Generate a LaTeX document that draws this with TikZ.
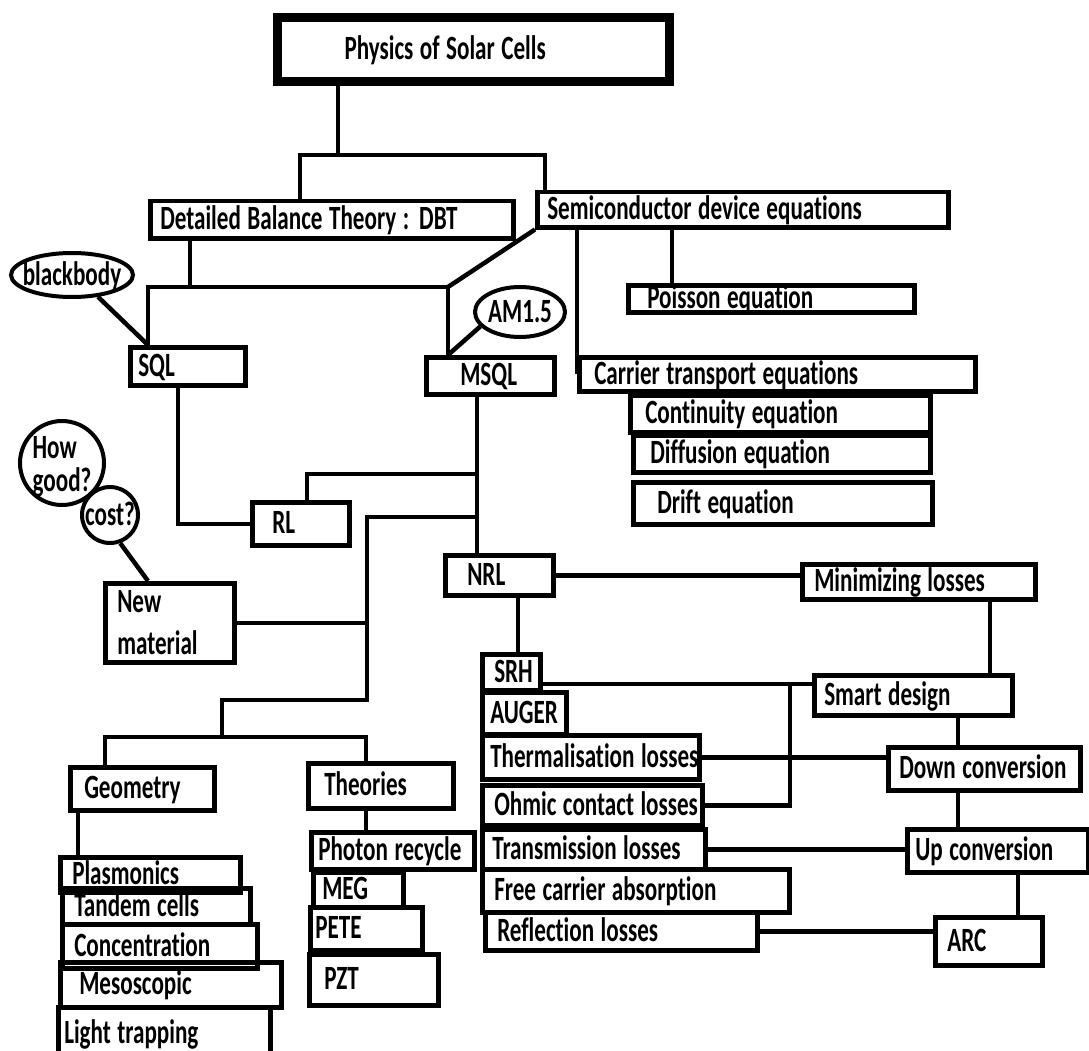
\documentclass[tikz,border=0pt]{standalone}
\usepackage{fontspec}
\newfontfamily\chartfont{Carlito}[FakeStretch=0.68, Ligatures=NoCommon]
\usetikzlibrary{shapes.geometric}
\newcommand{\ovaltext}[1]{\makebox[0pt]{\smash{\raisebox{-0.3em}{#1}}}}
\newcommand{\chartsize}{\fontsize{34}{42}\selectfont\fontdimen2\font=6.5pt\fontdimen3\font=0pt\fontdimen4\font=0pt}

\begin{document}
\begin{tikzpicture}[x=1pt, y=-1pt,
    font=\chartfont\bfseries\chartsize,
    box/.style={draw, line width=4.5pt, anchor=north west, inner ysep=0pt, text height=20pt, text depth=0pt},
    textline/.style={execute at begin node={\hbox to #1pt\bgroup}, execute at end node={\hss\egroup}},
    oval/.style={draw, ellipse, line width=4pt, inner sep=0pt},
    ball/.style={draw, circle, line width=4pt, inner sep=0pt},
    link/.style={line width=4.5pt}]
    \useasboundingbox (0,0) rectangle (1089,1051);

    \node[box, line width=9pt, minimum width=392, minimum height=64, inner xsep=67, textline=258] (title) at (273,13) {Physics of Solar Cells};
    \node[box, minimum width=363, minimum height=37, inner xsep=10, textline=343] (dbt) at (148,199) {Detailed Balance Theory :\hspace{10pt}DBT};
    \node[box, minimum width=411, minimum height=35, inner xsep=10, textline=391] (sde) at (535,190) {Semiconductor device equations};
    \node[box, minimum width=115, minimum height=38, inner xsep=8, textline=99] (sql) at (128,345) {SQL};
    \node[box, minimum width=128, minimum height=37, inner xsep=34, textline=60] (msql) at (424,355) {MSQL};
    \node[box, minimum width=286, minimum height=27, inner xsep=19, textline=248] (poisson) at (626,283) {Poisson equation};
    \node[box, minimum width=396, minimum height=34, inner xsep=15, textline=366] (carrier) at (577,355) {Carrier transport equations};
    \node[box, minimum width=300, minimum height=37, inner xsep=15, textline=270] (cont) at (628,393) {Continuity equation};
    \node[box, minimum width=297, minimum height=37, inner xsep=17, textline=263] (diff) at (631,433) {Diffusion equation};
    \node[box, minimum width=299, minimum height=42, inner xsep=24, textline=251] (drift) at (631,480) {Drift equation};
    \node[box, minimum width=97, minimum height=43, inner xsep=20, textline=57] (rl) at (250,500) {RL};
    \node[box, minimum width=129, minimum height=79, inner xsep=12, text width=105, align=left, text height={}, text depth={}] (newmat) at (103,581) {New\\material};
    \node[box, minimum width=108, minimum height=40, inner xsep=22, textline=64] (nrl) at (443,553) {NRL};
    \node[box, minimum width=233, minimum height=35, inner xsep=12, textline=209] (minloss) at (800,562) {Minimizing losses};

    \node[box, minimum width=58, minimum height=36, inner xsep=12, textline=34] (srh) at (480,652) {SRH};
    \node[box, minimum width=84, minimum height=42, inner xsep=8, textline=68] (auger) at (480,690) {AUGER};
    \node[box, minimum width=217, minimum height=44, inner xsep=8, textline=201] (therm) at (480,733) {Thermalisation losses};
    \node[box, minimum width=220, minimum height=40, inner xsep=12, textline=196] (ohmic) at (480,783) {Ohmic contact losses};
    \node[box, minimum width=223, minimum height=40, inner xsep=10, textline=203] (trans) at (480,827) {Transmission losses};
    \node[box, minimum width=307, minimum height=43, inner xsep=12, textline=283] (free) at (480,867) {Free carrier absorption};
    \node[box, minimum width=272, minimum height=38, inner xsep=12, textline=248] (refl) at (483,910) {Reflection losses};

    \node[box, minimum width=198, minimum height=40, inner xsep=10, textline=178] (smart) at (812,673) {Smart design};
    \node[box, minimum width=192, minimum height=43, inner xsep=11, textline=170] (down) at (886,745) {Down conversion};
    \node[box, minimum width=181, minimum height=43, inner xsep=8, textline=165] (up) at (905,827) {Up conversion};
    \node[box, minimum width=107, minimum height=48, inner xsep=12, textline=83] (arc) at (933,915) {ARC};

    \node[box, minimum width=144, minimum height=43, inner xsep=14, textline=116] (geom) at (68,765) {Geometry};
    \node[box, minimum width=145, minimum height=45, inner xsep=16, textline=113] (theo) at (306,761) {Theories};
    \node[box, minimum width=180, minimum height=35, inner xsep=12, textline=156] (plas) at (58,855) {Plasmonics};
    \node[box, minimum width=188, minimum height=36, inner xsep=12, textline=164] (tand) at (60,886) {Tandem cells};
    \node[box, minimum width=195, minimum height=44, inner xsep=12, textline=171] (conc) at (60,922) {Concentration};
    \node[box, minimum width=221, minimum height=45, inner xsep=19, textline=183] (meso) at (58,960) {Mesoscopic};
    \node[box, minimum width=212, minimum height=52, inner xsep=6, textline=200] (light) at (56,1005) {Light trapping};
    \node[box, minimum width=163, minimum height=37, inner xsep=7, textline=149] (phot) at (309,830) {Photon recycle};
    \node[box, minimum width=90, minimum height=35, inner xsep=9, textline=72] (meg) at (311,870) {MEG};
    \node[box, minimum width=112, minimum height=43, inner xsep=5, textline=102] (pete) at (308,905) {PETE};
    \node[box, minimum width=129, minimum height=51, inner xsep=15, textline=99] (pzt) at (307,952) {PZT};

    \node[oval, minimum width=122, minimum height=44] (bb) at (72,275) {\ovaltext{blackbody}};
    \node[oval, minimum width=90, minimum height=50] (am) at (520,312) {\ovaltext{AM1.5}};
    \node[ball, minimum size=84] (good) at (62,463) {\ovaltext{\begin{tabular}{@{}l@{}}How\\[-9pt]good?\end{tabular}}};
    \node[ball, minimum size=56] (cost) at (110,515) {\ovaltext{cost?}};

    \coordinate (t0) at (338,155);
    \coordinate (t1) at (300,155);
    \coordinate (t2) at (545,155);
    \coordinate (d0) at (190,287);
    \coordinate (d1) at (148,287);
    \coordinate (d2) at (448,287);
    \coordinate (p0) at (672,0);
    \coordinate (s0) at (178,0);
    \coordinate (m0) at (477,474);
    \coordinate (r0) at (307,474);
    \coordinate (m1) at (477,517);
    \coordinate (n0) at (367,517);
    \coordinate (n1) at (367,700);
    \coordinate (g0) at (222,700);
    \coordinate (g1) at (222,737);
    \coordinate (g2) at (105,737);
    \coordinate (g3) at (366,737);
    \coordinate (g4) at (78,0);
    \coordinate (k0) at (148,0);
    \coordinate (q0) at (518,0);
    \coordinate (q1) at (990,0);
    \coordinate (h0) at (790,684);
    \coordinate (q2) at (958,0);
    \coordinate (q3) at (1018,0);

    \draw[link] (title.south -| t0) -- (t0);
    \draw[link] (dbt.north -| t1) -- (t1) -- (t2) -- (sde.north -| t2);
    \draw[link] (dbt.south -| d0) -- (d0);
    \draw[link] (sql.north -| d1) -- (d1) -- (d2) -- (msql.north -| d2);
    \draw[link] (sde.south west) -- (d2);
    \draw[link] (bb.-40) -- (sql.north -| d1);
    \draw[link] (am.200) -- (msql.north -| d2);
    \draw[link] (sde.south -| carrier.west) -- (carrier.west);
    \draw[link] (sde.south -| p0) -- (poisson.north -| p0);
    \draw[link] (sql.south -| s0) |- (rl.west);
    \draw[link] (msql.south -| m0) -- (nrl.north -| m0);
    \draw[link] (m0) -- (r0) -- (rl.north -| r0);
    \draw[link] (m1) -- (n0) -- (n1) -- (g0) -- (g1);
    \draw[link] (newmat.east) -- (newmat.east -| n0);
    \draw[link] (geom.north -| g2) -- (g2) -- (g3) -- (theo.north -| g3);
    \draw[link] (geom.south -| g4) -- (plas.north -| g4);
    \draw[link] (theo.south -| g3) -- (phot.north -| g3);
    \draw[link] (cost.290) -- (newmat.north -| k0);
    \draw[link] (nrl.east) -- (nrl.east -| minloss.west);
    \draw[link] (nrl.south -| q0) -- (srh.north -| q0);
    \draw[link] (minloss.south -| q1) -- (smart.north -| q1);
    \draw[link] (srh.east |- h0) -- (smart.west |- h0);
    \draw[link] (h0) |- (ohmic.east);
    \draw[link] (smart.south -| q2) -- (down.north -| q2);
    \draw[link] (therm.east) -- (therm.east -| down.west);
    \draw[link] (down.south -| q2) -- (up.north -| q2);
    \draw[link] (trans.east) -- (trans.east -| up.west);
    \draw[link] (up.south -| q3) -- (arc.north -| q3);
    \draw[link] (refl.east) -- (refl.east -| arc.west);
\end{tikzpicture}
\end{document}
